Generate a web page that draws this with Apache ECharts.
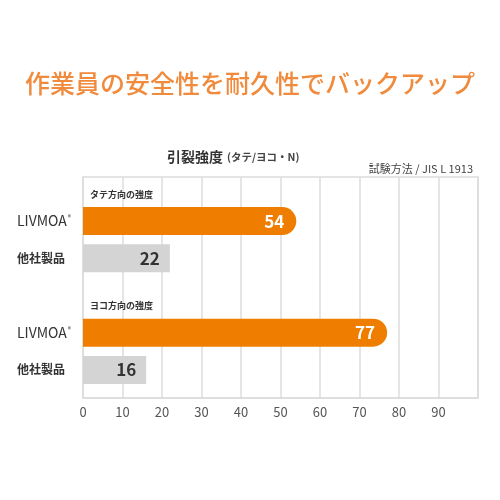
<!DOCTYPE html>
<html>
<head>
<meta charset="utf-8">
<script src="https://cdn.jsdelivr.net/npm/echarts@6/dist/echarts.min.js"></script>
<style>
  html, body { margin: 0; padding: 0; background: #fff; }
  #chart { width: 500px; height: 500px; }
</style>
</head>
<body>
<div id="chart"></div>
<script>
const FONT = '"Noto Sans CJK JP", "Noto Sans", sans-serif'
const ORANGE = '#ef7d00'
const GRAY = '#d4d4d4'

// rows of the chart, top to bottom ('' is the gap between the two groups)
const categories = ['LIVMOA', '他社製品', '', 'LIVMOA', '他社製品']
const livmoaValues = [54, '-', '-', 77, '-']
const otherValues = ['-', 22, '-', '-', 16]
const groupHeaders = ['タテ方向の強度', 'ヨコ方向の強度']
const headerRows = [0, 3]
const xTicks = [0, 10, 20, 30, 40, 50, 60, 70, 80, 90]

const chart = echarts.init(document.getElementById('chart'))

const xCommon = {
  type: 'value',
  min: 0,
  max: 100,
  interval: 10,
}

chart.setOption({
  backgroundColor: '#fff',
  animation: false,
  textStyle: { fontFamily: FONT },
  title: [
    {
      text: '作業員の安全性を耐久性でバックアップ',
      left: 'center',
      top: 66,
      textStyle: { color: '#f08a3c', fontSize: 25, fontWeight: 500, fontFamily: FONT },
    },
    {
      text: '{a|引裂強度} {b|(タテ/ヨコ・N)}',
      left: 162,
      top: 143,
      textStyle: {
        rich: {
          a: { fontSize: 14, fontWeight: 'bold', color: '#333', fontFamily: FONT },
          b: { fontSize: 10.5, color: '#444', fontFamily: FONT },
        },
      },
    },
    {
      text: '試験方法 / JIS L 1913',
      right: 22,
      top: 158,
      textStyle: { fontSize: 11, fontWeight: 'normal', color: '#444', fontFamily: FONT },
    },
  ],
  grid: [
    // frame with gridlines
    { left: 83, right: 22, top: 177, height: 221, show: true, borderColor: '#dcdcdc', borderWidth: 1.5 },
    // bars
    { left: 83, right: 22, top: 202.5, height: 186 },
  ],
  xAxis: [
    {
      ...xCommon,
      gridIndex: 0,
      axisLine: { show: true, lineStyle: { color: '#dcdcdc', width: 1.5 } },
      axisTick: { show: false },
      splitLine: { lineStyle: { color: '#dcdcdc', width: 1.5 } },
      axisLabel: {
        color: '#555',
        fontSize: 13,
        margin: 8,
        formatter: v => (xTicks.includes(v) ? String(v) : ''),
      },
    },
    { ...xCommon, gridIndex: 1, show: false },
  ],
  yAxis: [
    { type: 'value', gridIndex: 0, show: false },
    {
      type: 'category',
      gridIndex: 1,
      inverse: true,
      data: categories,
      axisLine: { show: false },
      axisTick: { show: false },
      axisLabel: {
        align: 'left',
        margin: 66,
        formatter: v => (v === 'LIVMOA' ? '{l|LIVMOA}{r|®}' : v ? '{o|' + v + '}' : ''),
        rich: {
          l: { fontSize: 14, color: '#333', fontFamily: FONT },
          r: { fontSize: 7, color: '#333', verticalAlign: 'top', padding: [0, 0, 6, 1] },
          o: { fontSize: 12, fontWeight: 'bold', color: '#333', fontFamily: FONT },
        },
      },
    },
  ],
  series: [
    {
      name: 'LIVMOA',
      type: 'bar',
      xAxisIndex: 1,
      yAxisIndex: 1,
      data: livmoaValues,
      barWidth: 28,
      barGap: '-100%',
      itemStyle: { color: ORANGE, borderRadius: [0, 14, 14, 0] },
      label: {
        show: true,
        position: 'insideRight',
        distance: 12,
        color: '#fff',
        fontSize: 17,
        fontWeight: 'bold',
        fontFamily: FONT,
      },
    },
    {
      name: '他社製品',
      type: 'bar',
      xAxisIndex: 1,
      yAxisIndex: 1,
      data: otherValues,
      barWidth: 28,
      itemStyle: { color: GRAY },
      label: {
        show: true,
        position: 'insideRight',
        distance: 10,
        color: '#333',
        fontSize: 17,
        fontWeight: 'bold',
        fontFamily: FONT,
      },
    },
  ],
})

// group headers sit just above the LIVMOA bar of each group
const headerGraphics = groupHeaders.map((text, i) => {
  const [x, y] = chart.convertToPixel({ xAxisIndex: 1, yAxisIndex: 1 }, [0, headerRows[i]])
  return {
    type: 'text',
    x: x + 7,
    y: y - 27,
    style: {
      text,
      fill: '#333',
      font: 'bold 9px ' + FONT,
      verticalAlign: 'middle',
    },
  }
})
chart.setOption({ graphic: headerGraphics })
</script>
</body>
</html>
